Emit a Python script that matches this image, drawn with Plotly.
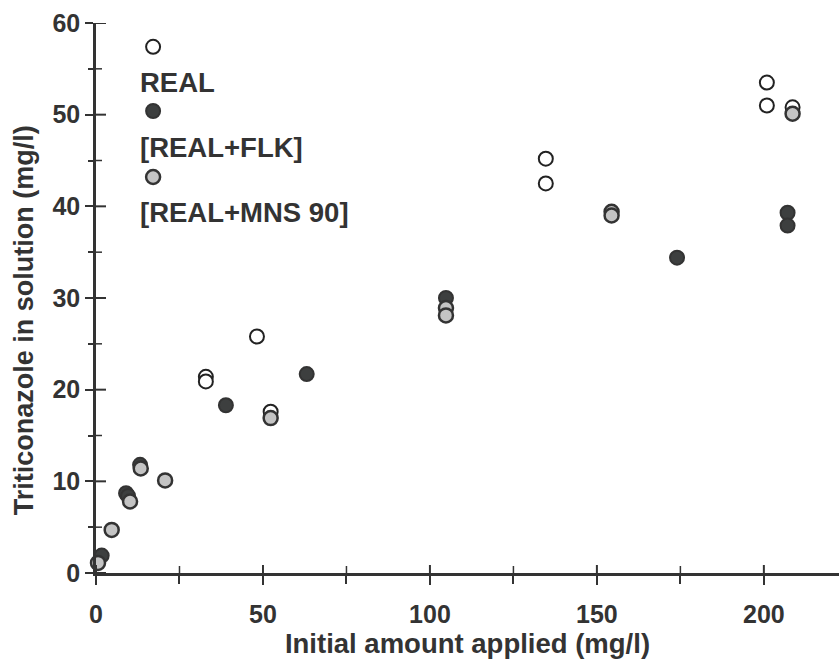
import plotly.graph_objects as go

# ---- data ----
real_x = [32.9, 32.9, 48.2, 52.3, 134.7, 134.7, 200.9, 200.9, 208.6]
real_y = [21.4, 20.9, 25.8, 17.6, 45.2, 42.5, 53.5, 51.0, 50.8]

flk_x = [1.7, 9.0, 9.6, 13.2, 38.9, 63.1, 104.8, 174.0, 207.1, 207.1]
flk_y = [1.9, 8.7, 8.4, 11.8, 18.3, 21.7, 30.0, 34.4, 39.3, 37.9]

mns_x = [0.6, 4.7, 10.2, 13.4, 20.7, 52.3, 104.8, 104.8, 154.4, 154.4, 208.6]
mns_y = [1.1, 4.7, 7.8, 11.4, 10.1, 16.9, 28.9, 28.1, 39.4, 39.0, 50.1]

series_names = ["REAL", "[REAL+FLK]", "[REAL+MNS 90]"]
legend_marker_x = 17.1
legend_marker_y = [57.4, 50.4, 43.2]
legend_text_x = 12.6
legend_text_y = [53.5, 46.4, 39.3]

x_major = [0, 50, 100, 150, 200]
x_minor = [25, 75, 125, 175]
y_major = [0, 10, 20, 30, 40, 50, 60]
y_minor = [5, 15, 25, 35, 45, 55]

x_title = "Initial amount applied (mg/l)"
y_title = "Triticonazole in solution (mg/l)"

INK = "#333333"
FONT = "Liberation Sans"
PLOT_W, PLOT_H = 743, 550

styles = [
    dict(color="white", line=dict(color="#222222", width=2)),
    dict(color="#3d3f3f", line=dict(color="#333333", width=2)),
    dict(color="#c4c4c4", line=dict(color="#333333", width=2.5)),
]

fig = go.Figure()

for (xs, ys), st, nm in zip([(real_x, real_y), (flk_x, flk_y), (mns_x, mns_y)], styles, series_names):
    fig.add_trace(go.Scatter(x=xs, y=ys, mode="markers", name=nm, showlegend=False,
                             cliponaxis=False,
                             marker=dict(symbol="circle", size=14, **st)))

# legend block drawn inside the plot
for yy, st, nm, ty in zip(legend_marker_y, styles, series_names, legend_text_y):
    fig.add_trace(go.Scatter(x=[legend_marker_x], y=[yy], mode="markers", showlegend=False,
                             cliponaxis=False, marker=dict(symbol="circle", size=14, **st)))
    fig.add_annotation(x=legend_text_x, y=ty, text=nm, showarrow=False, xanchor="left",
                       yanchor="middle", font=dict(family=FONT, size=27.5, color=INK, weight="bold"))

# inner halves of the crossing tick marks (outer halves come from the axes)
for vals, ln, w in [(x_major, 8, 2), (x_minor, 7, 1.5)]:
    for v in vals:
        fig.add_shape(type="line", xref="x", yref="paper", x0=v, x1=v, y0=0, y1=ln / PLOT_H,
                      line=dict(color=INK, width=w))
for vals, ln, w in [(y_major, 10, 2), (y_minor, 6, 1.5)]:
    for v in vals:
        fig.add_shape(type="line", xref="paper", yref="y", x0=0, x1=ln / PLOT_W, y0=v, y1=v,
                      line=dict(color=INK, width=w))

# y-axis title as rotated annotation
fig.add_annotation(xref="paper", yref="paper", x=-0.0965, y=0.46, text=y_title, textangle=-90,
                   showarrow=False, xanchor="center", yanchor="middle",
                   font=dict(family=FONT, size=27, color=INK, weight="bold"))

axis_common = dict(showgrid=False, zeroline=False)
tickfont = dict(family=FONT, size=25, color=INK, weight="bold")
fig.update_layout(
    width=839, height=665,
    margin=dict(l=96, r=0, t=23, b=92),
    paper_bgcolor="white", plot_bgcolor="white",
    font=dict(family=FONT, size=25, color=INK, weight="bold"),
    xaxis=dict(range=[0, 222.5], tickvals=x_major, ticks="outside", ticklen=9, tickwidth=2,
               tickcolor=INK, showline=True, linecolor=INK, linewidth=2.5,
               minor=dict(tickvals=x_minor, ticks="outside", ticklen=8, tickwidth=1.5, tickcolor=INK),
               ticklabelstandoff=8,
               title=dict(text=x_title, standoff=6,
                          font=dict(family=FONT, size=27.5, color=INK, weight="bold")),
               tickfont=tickfont, **axis_common),
    yaxis=dict(range=[0, 60], tickvals=y_major, ticks="outside", ticklen=8, tickwidth=2,
               tickcolor=INK, showline=True, linecolor=INK, linewidth=2.5,
               minor=dict(tickvals=y_minor, ticks="outside", ticklen=5, tickwidth=1.5, tickcolor=INK),
               tickfont=tickfont, **axis_common),
)

fig.write_html("out.html")
